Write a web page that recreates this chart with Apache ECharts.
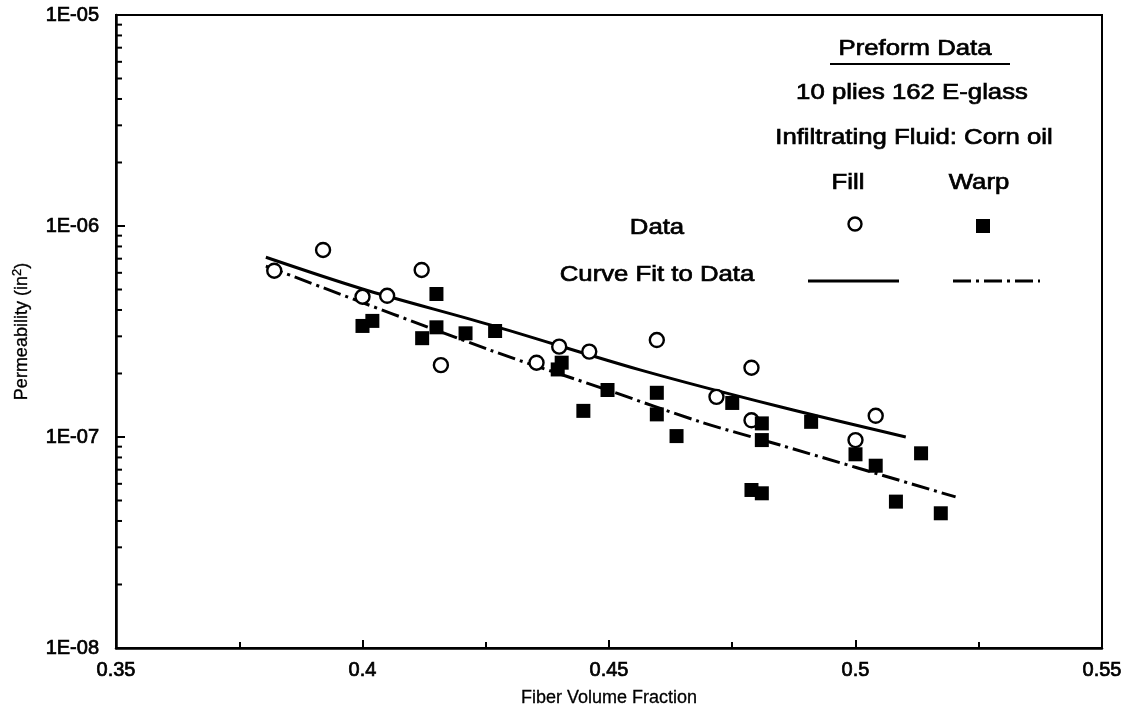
<!DOCTYPE html>
<html>
<head>
<meta charset="utf-8">
<script src="https://cdn.jsdelivr.net/npm/echarts@6/dist/echarts.min.js"></script>
<style>
  html, body { margin: 0; padding: 0; background: #fff; }
  #chart { width: 1130px; height: 712px; }
</style>
</head>
<body>
<div id="chart"></div>
<script>
// Fill direction (open circles)
const fillVf = [0.3821, 0.3920, 0.4000, 0.4050, 0.4120, 0.4159, 0.4353, 0.4399, 0.4460, 0.4597, 0.4718, 0.4789, 0.4789, 0.5000, 0.5041];
const fillPerm = [6.14e-7, 7.70e-7, 4.62e-7, 4.67e-7, 6.19e-7, 2.19e-7, 2.25e-7, 2.68e-7, 2.54e-7, 2.88e-7, 1.55e-7, 2.13e-7, 1.20e-7, 9.67e-8, 1.26e-7];

// Warp direction (filled squares)
const warpVf = [0.4000, 0.4020, 0.4121, 0.4150, 0.4150, 0.4209, 0.4269, 0.4396, 0.4404, 0.4448, 0.4497, 0.4597, 0.4597, 0.4637, 0.4750,
  0.4789, 0.4810, 0.4810, 0.4810, 0.4910, 0.5000, 0.5041, 0.5082, 0.5133, 0.5173];
const warpPerm = [3.36e-7, 3.55e-7, 2.94e-7, 4.76e-7, 3.31e-7, 3.10e-7, 3.18e-7, 2.09e-7, 2.25e-7, 1.33e-7, 1.67e-7, 1.62e-7, 1.28e-7, 1.01e-7, 1.45e-7,
  5.61e-8, 1.16e-7, 9.67e-8, 5.41e-8, 1.18e-7, 8.28e-8, 7.31e-8, 4.94e-8, 8.37e-8, 4.35e-8];

// curve fits
const fitFillVf = [0.3804, 0.4000, 0.4259, 0.4563, 0.4847, 0.5102];
const fitFillPerm = [7.11e-7, 5.03e-7, 3.40e-7, 2.08e-7, 1.39e-7, 1.00e-7];
const fitWarpVf = [0.3804, 0.4259, 0.4497, 0.4685, 0.4847, 0.5203];
const fitWarpPerm = [6.46e-7, 2.58e-7, 1.67e-7, 1.18e-7, 9.16e-8, 5.20e-8];

// axis ranges / minor log ticks
const xMin = 0.35, xMax = 0.55, xStep = 0.05;
const yMin = 1e-8, yMax = 1e-5;
const minorMult = [2, 3, 4, 5, 6, 7, 8, 9];
const decades = [1e-8, 1e-7, 1e-6];

const FONT = '"Liberation Sans", Arial, sans-serif';
const zip = (a, b) => a.map((v, i) => [v, b[i]]);

const yMinor = [];
decades.forEach(d => minorMult.forEach(m => yMinor.push([xMin, m * d])));

const expLabel = v => {
  const e = Math.round(Math.log10(v));
  return '1E' + (e < 0 ? '-' : '+') + String(Math.abs(e)).padStart(2, '0');
};

// scanned text is heavier than regular but lighter than bold: thin outline
const heavy = { textBorderColor: '#000', textBorderWidth: 0.7 };

// legend block text is a bit wider than Liberation Sans, stretch it a little
const txt = (text, x, y) => ({
  type: 'text', x, y, z: 10, scaleX: 1.17,
  style: { text, fill: '#000', stroke: '#000', lineWidth: 0.7, font: '22px ' + FONT, textAlign: 'center', textVerticalAlign: 'middle' }
});

const chart = echarts.init(document.getElementById('chart'));
chart.setOption({
  animation: false,
  backgroundColor: '#fff',
  grid: { left: 116, right: 28, top: 15, bottom: 64, outerBoundsMode: 'none', show: true, borderColor: '#000', borderWidth: 2 },
  xAxis: {
    type: 'value', min: xMin, max: xMax, interval: xStep,
    name: 'Fiber Volume Fraction', nameLocation: 'middle', nameGap: 41,
    nameTextStyle: { fontFamily: FONT, fontSize: 18, color: '#000', textBorderColor: '#000', textBorderWidth: 0.3 },
    axisLine: { lineStyle: { color: '#000', width: 2.5 } },
    axisTick: { inside: true, length: 8, lineStyle: { color: '#000', width: 2 } },
    minorTick: { show: true, splitNumber: 2, length: 6, lineStyle: { color: '#000', width: 2 } },
    axisLabel: { fontFamily: FONT, fontSize: 20, color: '#000', margin: 12, ...heavy, formatter: v => String(+v.toFixed(2)) },
    splitLine: { show: false }
  },
  yAxis: {
    type: 'log', logBase: 10, min: yMin, max: yMax,
    name: 'Permeability (in{sup|2})', nameLocation: 'middle', nameGap: 82,
    nameTextStyle: {
      fontFamily: FONT, fontSize: 18, color: '#000', textBorderColor: '#000', textBorderWidth: 0.3,
      rich: { sup: { fontFamily: FONT, fontSize: 13, verticalAlign: 'top', padding: [0, 0, 10, 0] } }
    },
    axisLine: { lineStyle: { color: '#000', width: 2.5 } },
    axisTick: { inside: true, length: 9, lineStyle: { color: '#000', width: 2 } },
    axisLabel: { fontFamily: FONT, fontSize: 20, color: '#000', margin: 17, ...heavy, formatter: expLabel },
    splitLine: { show: false }
  },
  series: [
    {
      // minor log ticks on the left axis
      type: 'custom', silent: true, clip: false, z: 1,
      data: yMinor,
      renderItem: (params, api) => {
        const p = api.coord([api.value(0), api.value(1)]);
        return { type: 'line', shape: { x1: p[0], y1: p[1], x2: p[0] + 6, y2: p[1] }, style: { stroke: '#000', lineWidth: 2 } };
      }
    },
    {
      name: 'Fill fit', type: 'line', data: zip(fitFillVf, fitFillPerm), smooth: 0.3,
      showSymbol: false, z: 2, lineStyle: { color: '#000', width: 3 }
    },
    {
      name: 'Warp fit', type: 'line', data: zip(fitWarpVf, fitWarpPerm), smooth: 0.3,
      showSymbol: false, z: 2, lineStyle: { color: '#000', width: 3, type: [18, 5, 3, 5] }
    },
    {
      name: 'Fill', type: 'scatter', data: zip(fillVf, fillPerm), symbol: 'circle', symbolSize: 14, z: 3,
      itemStyle: { color: '#fff', borderColor: '#000', borderWidth: 2.4, opacity: 1 }
    },
    {
      name: 'Warp', type: 'scatter', data: zip(warpVf, warpPerm), symbol: 'rect', symbolSize: 14, z: 4,
      itemStyle: { color: '#000', opacity: 1 }
    }
  ],
  graphic: [
    txt('Preform Data', 915, 49),
    { type: 'line', z: 10, shape: { x1: 830, y1: 64, x2: 1010, y2: 64 }, style: { stroke: '#000', lineWidth: 2 } },
    txt('10 plies 162 E-glass', 912, 93),
    txt('Infiltrating Fluid: Corn oil', 914, 138),
    txt('Fill', 848, 183),
    txt('Warp', 979, 183),
    txt('Data', 657, 228),
    { type: 'circle', z: 10, shape: { cx: 855, cy: 224, r: 6.5 }, style: { fill: '#fff', stroke: '#000', lineWidth: 2.4 } },
    { type: 'rect', z: 10, shape: { x: 976, y: 219, width: 14, height: 14 }, style: { fill: '#000' } },
    txt('Curve Fit to Data', 657, 275),
    { type: 'line', z: 10, shape: { x1: 808, y1: 281, x2: 899, y2: 281 }, style: { stroke: '#000', lineWidth: 3 } },
    { type: 'line', z: 10, shape: { x1: 953, y1: 281, x2: 1040, y2: 281 }, style: { stroke: '#000', lineWidth: 3, lineDash: [18, 5, 3, 5] } }
  ]
});
</script>
</body>
</html>
